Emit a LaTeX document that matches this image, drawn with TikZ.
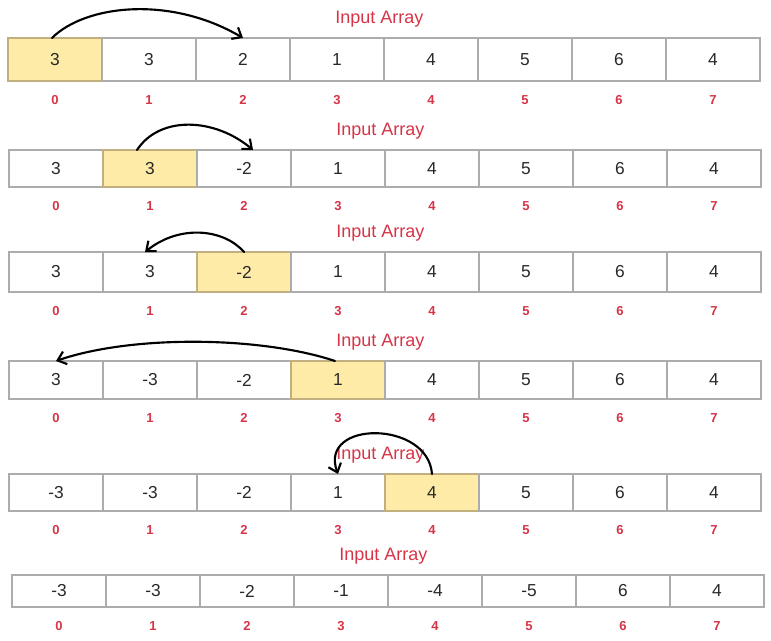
\documentclass[tikz,border=0pt]{standalone}
\usepackage{fontspec}
\setmainfont{Liberation Sans}
\usepackage{tikz}
\usetikzlibrary{positioning}
\usetikzlibrary{calc}
\usetikzlibrary{arrows.meta}
\definecolor{cellgray}{RGB}{172,172,172}
\definecolor{numgray}{RGB}{40,40,40}
\definecolor{hlfill}{HTML}{FFEBA8}
\definecolor{hlborder}{HTML}{C2AF80}
\definecolor{idxred}{HTML}{D63447}
\tikzset{
  cell/.style={draw=cellgray, line width=0.8pt, minimum width=70.5pt, inner sep=0pt,
    outer sep=0pt, anchor=north west, text=numgray, font=\fontsize{13}{15}\selectfont},
  hcell/.style={cell, fill=hlfill, draw=hlborder},
  idx/.style={inner sep=0pt, text=idxred, font=\fontsize{9.75}{11}\selectfont\bfseries},
  title/.style={inner sep=0pt, text=idxred, font=\fontsize{13.5}{16}\selectfont},
  hop/.style={-{Straight Barb[length=6pt,width=10pt]}, line width=1.6pt,
    line cap=round, line join=round}
}

\begin{document}
\begin{tikzpicture}[x=0.75pt,y=-0.75pt]
\useasboundingbox (0,0) rectangle (771,641);

% Row 1
\foreach \v/\s [count=\i from 0] in {3/hcell,3/cell,2/cell,1/cell,4/cell,5/cell,6/cell,4/cell}
{
  \node[\s, minimum height=32.25pt] (a1-\i) at ({8+94*\i},38) {\v};
  \node[idx, below=10.5pt of a1-\i] (i1-\i) {\i};
}
\node[title, above=8pt of a1-3.north east, xshift=-3.5pt] (t1) {Input Array};

% Row 2
\foreach \v/\s [count=\i from 0] in {3/cell,3/hcell,-2/cell,1/cell,4/cell,5/cell,6/cell,4/cell}
{
  \node[\s, minimum height=27.75pt] (a2-\i) at ({9+94*\i},150) {\v};
  \node[idx, below=10.5pt of a2-\i] (i2-\i) {\i};
}
\node[title, above=8pt of a2-3.north east, xshift=-3.5pt] (t2) {Input Array};

% Row 3
\foreach \v/\s [count=\i from 0] in {3/cell,3/cell,-2/hcell,1/cell,4/cell,5/cell,6/cell,4/cell}
{
  \node[\s, minimum height=30pt] (a3-\i) at ({9+94*\i},252) {\v};
  \node[idx, below=10.5pt of a3-\i] (i3-\i) {\i};
}
\node[title, above=8pt of a3-3.north east, xshift=-3.5pt] (t3) {Input Array};

% Row 4
\foreach \v/\s [count=\i from 0] in {3/cell,-3/cell,-2/cell,1/hcell,4/cell,5/cell,6/cell,4/cell}
{
  \node[\s, minimum height=28.5pt] (a4-\i) at ({9+94*\i},361) {\v};
  \node[idx, below=10.5pt of a4-\i] (i4-\i) {\i};
}
\node[title, above=8pt of a4-3.north east, xshift=-3.5pt] (t4) {Input Array};

% Row 5
\foreach \v/\s [count=\i from 0] in {-3/cell,-3/cell,-2/cell,1/cell,4/hcell,5/cell,6/cell,4/cell}
{
  \node[\s, minimum height=27.75pt] (a5-\i) at ({9+94*\i},474) {\v};
  \node[idx, below=10.5pt of a5-\i] (i5-\i) {\i};
}
\node[title, above=8pt of a5-3.north east, xshift=-3.5pt] (t5) {Input Array};

% Row 6
\foreach \v [count=\i from 0] in {-3,-3,-2,-1,-4,-5,6,4}
{
  \node[cell, minimum height=24pt] (a6-\i) at ({12+94*\i},575) {\v};
  \node[idx, below=10.5pt of a6-\i] (i6-\i) {\i};
}
\node[title, above=8pt of a6-3.north east, xshift=-3.5pt] (t6) {Input Array};

% Arrows
\draw[hop] ($(a1-0.north)+(-3,0)$) .. controls +(33,-33) and +(-73,-43) .. (a1-2.north);
\draw[hop] ($(a2-1.north)+(-13,0)$) .. controls +(23,-35) and +(-38,-32) .. ($(a2-2.north)+(9,0)$);
\draw[hop] (a3-2.north) .. controls +(-20,-23) and +(35,-28) .. ($(a3-1.north)+(-5,0)$);
\draw[hop] ($(a4-3.north)+(-3,0)$) .. controls +(-75,-25) and +(75,-26) .. (a4-0.north);
\draw[hop] (a5-4.north) .. controls +(-4,-54) and +(-20,-54) .. (a5-3.north);
\end{tikzpicture}
\end{document}
